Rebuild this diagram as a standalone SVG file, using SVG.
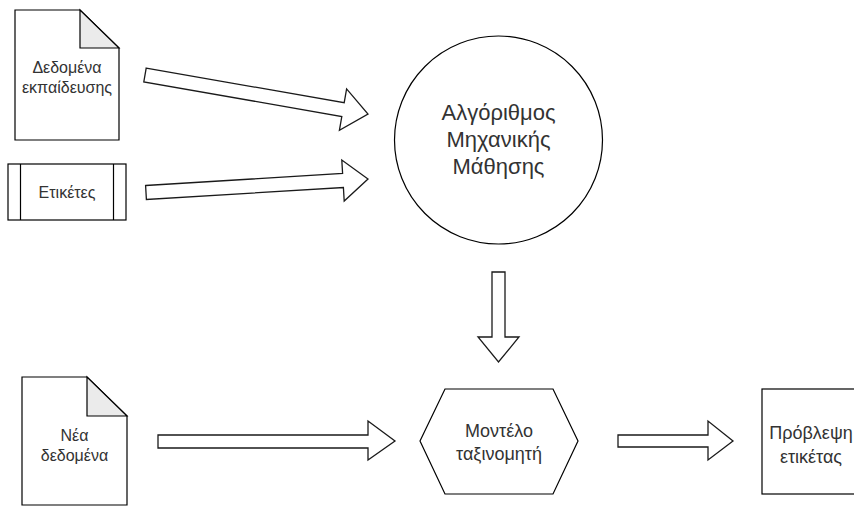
<svg xmlns="http://www.w3.org/2000/svg" width="854" height="507" viewBox="0 0 854 507">
  <style>
    .shape { fill: #ffffff; stroke: #000000; stroke-width: 1.2; }
    .fold { fill: #ebebeb; stroke: #000000; stroke-width: 1.2; stroke-linejoin: miter; }
    .arrow { fill: #ffffff; stroke: #1a1a1a; stroke-width: 1.3; stroke-linejoin: miter; }
    .label { font-family: "Liberation Sans", Arial, sans-serif; fill: #333333; text-anchor: middle; }
    .s16 { font-size: 16px; }
    .s18 { font-size: 18px; }
    .s22 { font-size: 22px; }
  </style>
  <rect width="854" height="507" fill="#ffffff"/>

  <!-- training data document -->
  <g id="training-data">
    <path class="shape" d="M15,10 H80 L119,48 V140 H15 Z"/>
    <path class="fold" d="M80,10 V48 H119 Z"/>
    <text class="label s16" x="67" y="73">Δεδομένα</text>
    <text class="label s16" x="67" y="93">εκπαίδευσης</text>
  </g>

  <!-- labels (process block) -->
  <g id="labels">
    <rect class="shape" x="8" y="164" width="118" height="56"/>
    <line class="shape" x1="20.5" y1="164" x2="20.5" y2="220"/>
    <line class="shape" x1="113.5" y1="164" x2="113.5" y2="220"/>
    <text class="label s16" x="67" y="198">Ετικέτες</text>
  </g>

  <!-- learning algorithm -->
  <g id="ml-algorithm">
    <circle class="shape" cx="498.5" cy="140" r="104"/>
    <text class="label s22" x="498.5" y="120">Αλγόριθμος</text>
    <text class="label s22" x="498.5" y="147">Μηχανικής</text>
    <text class="label s22" x="498.5" y="174">Μάθησης</text>
  </g>

  <!-- new data document -->
  <g id="new-data">
    <path class="shape" d="M22,377 H87 L127,416 V505 H22 Z"/>
    <path class="fold" d="M87,377 V416 H127 Z"/>
    <text class="label s16" x="74.5" y="441">Νέα</text>
    <text class="label s16" x="74.5" y="461">δεδομένα</text>
  </g>

  <!-- classifier model -->
  <g id="classifier">
    <polygon class="shape" points="420,441 445,389 553,389 578,441 553,494 445,494"/>
    <text class="label s18" x="499" y="437">Μοντέλο</text>
    <text class="label s18" x="499" y="460">ταξινομητή</text>
  </g>

  <!-- predicted label -->
  <g id="prediction">
    <rect class="shape" x="762" y="389" width="100" height="105"/>
    <text class="label s18" x="811" y="439">Πρόβλεψη</text>
    <text class="label s18" x="811" y="463">ετικέτας</text>
  </g>

  <!-- block arrows -->
  <g id="connectors">
    <polygon class="arrow" points="146.2,68.1 344.2,102.7 346.6,88.9 368,114 339.4,130.3 341.8,116.5 143.8,81.9"/>
    <polygon class="arrow" points="145.6,185.5 342.6,173.5 341.8,160 368,179 344.2,201 343.4,187.5 146.4,199.5"/>
    <polygon class="arrow" points="492,272 505,272 505,337 519,337 498.5,362 478,337 492,337"/>
    <polygon class="arrow" points="158,435 368,435 368,421 395,441 368,460 368,448 158,448"/>
    <polygon class="arrow" points="618,435 708,435 708,421 733,441 708,460 708,447 618,447"/>
  </g>
</svg>
